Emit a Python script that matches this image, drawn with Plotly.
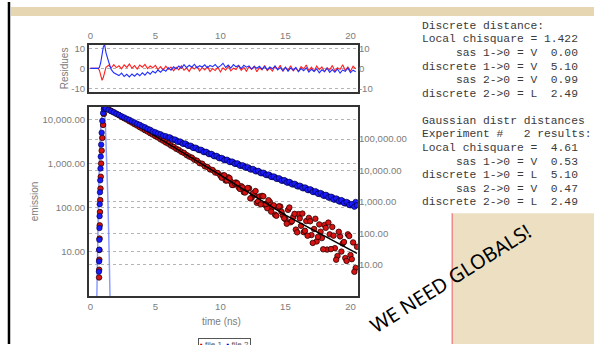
import numpy as np
import plotly.graph_objects as go

W, H = 594, 345

# ---------------- data ----------------
time_grid = np.round(np.arange(1.2, 20.41, 0.2), 1)      # 1.2 ... 20.4
time_extra = np.round(np.arange(10.1, 20.51, 0.2), 1)    # 10.1 ... 20.5
time_blue_extra = np.round(np.arange(6.1, 20.51, 0.2), 1)  # 6.1 ... 20.5

red_rise_t = [0.67, 0.68, 0.69, 0.70, 0.71, 0.72, 0.74, 0.76, 0.78, 0.80, 0.83, 0.87, 0.92, 0.98, 1.04, 1.10]
red_rise_y = [2.6, 3.9, 6.6, 11, 20, 40, 80, 150, 275, 510, 1020, 2000, 3900, 7700, 13700, 19300]
red_decay = [
    18900, 17600, 16100, 14900, 13900, 12800, 11800, 10900, 10200, 9350,
    8700, 8000, 7450, 6850, 6350, 5850, 5450, 5000, 4650, 4280,
    4000, 3620, 3380, 3080, 2880, 2610, 2440, 2210, 2080, 1880,
    1780, 1590, 1470, 1390, 1240, 1180, 1040, 1010, 880, 850,
    750, 725, 635, 620, 540,
    547, 418, 495, 396, 333, 377, 294, 311, 227, 251,
    278, 169, 196, 130, 181, 187, 118, 98, 136, 104,
    70, 103, 107, 67, 55,
    90, 47, 62, 32, 72, 39, 28, 50, 59, 24,
    33, 17.2, 42, 20.5, 40.7, 11.2, 24.9, 36.7, 12.1, 8.0,
    22.4, 15.5, 7.2, 24.9, 8.4, 16.3, 4.3,
]
red_extra = [
    485, 549, 420, 475, 331, 366, 360, 270, 292, 223,
    283, 164, 214, 241, 140, 120, 183, 122, 149, 82,
    114, 66, 108, 81, 58,
    43.5, 102, 49.6, 72.9, 27.7, 57.5, 74, 30, 23.2, 49.4,
    15.9, 56.4, 21.8, 28.6, 11.4, 35, 46.1, 11.5, 23.3, 6.6,
    28.5, 10.1, 16.7, 6.2, 22.9, 6.8, 3.5, 13,
]

blue_rise_t = [0.66, 0.67, 0.68, 0.69, 0.70, 0.71, 0.72, 0.74, 0.76, 0.78, 0.80, 0.83, 0.87, 0.92, 0.98, 1.04, 1.10]
blue_rise_y = [6, 12.7, 30, 62, 147, 352, 845, 2030, 4870, 11600, 27800, 66700, 160000, 381000, 678000, 902000, 970000]
blue_decay = [
    930000, 850000, 770000, 712000, 640000, 592000, 533000, 491000, 444000, 412000,
    369000, 341000, 307000, 284000, 255000, 237000, 212000, 198000, 176000, 165000,
    151000, 143000, 129000, 124000, 111000, 106000, 95500, 91500, 82500, 78500,
    70500, 67500, 60500, 58000, 52000, 50000, 44500, 43000, 38500, 37000,
    33000, 32000, 28500, 27300, 24500,
    23600, 21300, 20700, 18600, 18100, 16200, 15800, 14100, 13800, 12300,
    12000, 10800, 10500, 9400, 9150, 8150, 8000, 7100, 7000, 6200,
    6100, 5400, 5300, 4700, 4680,
    4100, 4060, 3580, 3560, 3100, 3120, 2700, 2720, 2360, 2380,
    2050, 2080, 1780, 1820, 1550, 1600, 1350, 1400, 1170, 1220,
    1020, 1070, 890, 940, 780, 830, 1000,
]
blue_extra = [
    114000, 96500, 97000, 82500, 84000, 71500, 72500, 61500, 62000, 52500,
    53500, 45500, 46000, 38800, 39500, 33500, 34000, 28700, 29300, 24700,
    25200, 21400, 22100, 18700, 19300, 16300, 16900, 14200, 14700, 12400,
    12800, 10800, 11200, 9450, 9750, 8250, 8550, 7200, 7450, 6250,
    6500, 5450, 5700, 4750, 4950, 4150, 4350, 3620, 3780, 3150,
    3300, 2750, 2900, 2400, 2530, 2080, 2200, 1820, 1920, 1590,
    1680, 1380, 1470, 1200, 1290, 1050, 1140, 920, 1000, 800,
    850, 700, 780,
]

red_fit_t = [1.1, 5, 10, 15, 20.5]
red_fit_y = [19600, 4300, 555, 68, 9.2]
blue_fit_t = [1.1, 5, 10, 20.5]
blue_fit_y = [973000, 164000, 24900, 693]

irf_t = [0.48, 0.52, 0.58, 0.65, 0.73, 0.82, 0.95, 1.05, 1.15, 1.25, 1.35, 1.45, 1.53]
irf_y = [0.5, 3, 30, 300, 2500, 9000, 15000, 17000, 9000, 1500, 150, 8, 0.5]

res_t_early = [0, 0.6, 0.7, 0.8, 0.9, 1.0, 1.1]
res_red = [0, 0, -1, -4, -6, -4.5, -1.5,
    0.5, 1.6, 0.2, 1.9, 0.4, 1.3, -0.2, 1.8, 0.5, 2.2, 0.1, 1.4, -0.3, 1.7, 0.6, 2.0, -0.1, 1.2, 0.3, 1.5,
    -0.6, 0.9, -0.8, 1.1, -0.4, 0.7, -1.2, 0.5, -0.7, 1.3, -0.9, 0.2, -1.5, 0.8, -0.3, 1.0, -1.3, 0.4, -0.8, 0.9, -1.6, -0.1, -1.1, 0.6, -1.8,
    0.3, -0.9, 1.2, -1.2, 0.1, -0.6, 1.4, -1.0, 0.5, -1.4, 0.8, -0.5, 1.1, -1.7, 0.4, -0.7, 1.5, -1.1, 0.2, -1.3, 1.0, -0.4, 1.6, -1.5, 0.5,
    -0.9, 1.3, -1.2, 0.1, -1.6, 0.9, -0.3, 1.7, -1.0, 0.6, -1.4, 1.2, -0.6, 0.8, -1.7, 0.3, -0.8, 1.5, -1.3, 0.4, -0.5, 1.8, -1.1, 0.7, -1.4, 1.1, -0.2,
]
res_blue = [0, 0, 0.5, 3, 7, 11, 12,
    8, 3.5, -0.5, -2.2, -3.1,
    -3.6, -2.4, -4.1, -3.0, -4.3, -2.8, -3.9, -2.6, -3.7, -2.2, -3.4, -1.8, -2.9, -1.4, -2.3,
    -0.8, -1.9, -0.5, -1.4, 0.3, -0.9, 0.8, -0.2, 1.2, 0.1, 1.9, 0.4, 1.6, 0.6, 2.1, 0.3, 1.4, 0.7, 1.8, 0.2, 1.5, 0.9, 2.0, 0.4, 1.3,
    2.6, 0.5, 1.7, 0.2, 1.9, 0.8, 1.5, -0.1, 1.6, 0.6, 1.2, -0.3, 1.0, 0.1, 1.1, -0.4, 0.9, -0.6, 0.7, -0.2, 1.3, -0.8, 0.4, -1.1, 0.6,
    -1.4, 0.2, -0.9, 0.5, -1.6, -0.1, -1.2, 0.3, -1.8, -0.4, -1.5, -0.2, -2.2, -0.7, -1.6, 0.1, -2.0, -0.6, -1.9, -0.3, -2.4, -0.8, -1.5, 0.2, -2.1, -0.9, -1.7,
]

x_ticks = [0, 5, 10, 15, 20]
left_ticks = [10, 100, 1000, 10000]
left_labels = ["10.00", "100.00", "1,000.00", "10,000.00"]
right_ticks = [10, 100, 1000, 10000, 100000]
right_labels = ["10.00", "100.00", "1,000.00", "10,000.00", "100,000.00"]
res_ticks = [-10, 0, 10]
res_labels = ["-10", "0", "10"]

info_lines = [
    "Discrete distance:",
    "Local chisquare = 1.422",
    "     sas 1->0 = V  0.00",
    "discrete 1->0 = V  5.10",
    "     sas 2->0 = V  0.99",
    "discrete 2->0 = L  2.49",
    "",
    "Gaussian distr distances",
    "Experiment #   2 results:",
    "Local chisquare =  4.61",
    "     sas 1->0 = V  0.53",
    "discrete 1->0 = L  5.10",
    "     sas 2->0 = V  0.47",
    "discrete 2->0 = L  2.49",
]

# ---------------- figure ----------------
def px(x):
    return x / W

def py(y):
    return 1 - y / H

RED = "#d81212"
BLUE = "#1a1aff"
GRAY = "#7c7c7c"

fig = go.Figure()
fig.add_trace(go.Scatter(x=irf_t, y=irf_y, mode="lines", xaxis="x", yaxis="y",
                         line=dict(color="rgba(120,140,255,0.85)", width=1.5), showlegend=False))
fig.add_trace(go.Scatter(x=red_rise_t + list(time_grid) + list(time_extra),
                         y=red_rise_y + red_decay + red_extra, mode="markers",
                         xaxis="x", yaxis="y", showlegend=False,
                         marker=dict(size=5.5, color=RED, line=dict(color="#2a0000", width=0.8))))
fig.add_trace(go.Scatter(x=red_fit_t, y=red_fit_y, mode="lines", xaxis="x", yaxis="y",
                         line=dict(color="black", width=1.5), showlegend=False))
fig.add_trace(go.Scatter(x=blue_fit_t, y=blue_fit_y, mode="lines", xaxis="x", yaxis="y2",
                         line=dict(color="black", width=3), showlegend=False))
fig.add_trace(go.Scatter(x=blue_rise_t + list(time_grid) + list(time_blue_extra),
                         y=blue_rise_y + blue_decay + blue_extra, mode="markers",
                         xaxis="x", yaxis="y2", showlegend=False,
                         marker=dict(size=5.5, color=BLUE, line=dict(color="#000030", width=0.6))))

res_t = res_t_early + list(time_grid)
fig.add_trace(go.Scatter(x=res_t, y=res_red, mode="lines", xaxis="x2", yaxis="y3",
                         line=dict(color="#ff2020", width=1.1), showlegend=False))
fig.add_trace(go.Scatter(x=res_t, y=res_blue, mode="lines", xaxis="x2", yaxis="y3",
                         line=dict(color="#2030ff", width=1.1), showlegend=False))
fig.add_trace(go.Scatter(x=res_t[:1], y=res_blue[:1], mode="markers", xaxis="x2", yaxis="y4",
                         marker=dict(opacity=0), hoverinfo="skip", showlegend=False))

tickfont = dict(family="Liberation Sans, Arial", size=9.6, color=GRAY)
frame = dict(showline=True, mirror=True, linecolor="#333333", linewidth=1.5, zeroline=False, ticks="")
xdom = [px(88), px(357.5)]
xrange = [-0.115, 20.57]

fig.update_layout(
    width=W, height=H, margin=dict(l=0, r=0, t=0, b=0),
    paper_bgcolor="white", plot_bgcolor="white",
    xaxis=dict(domain=xdom, range=xrange, anchor="y", tickvals=x_ticks, showgrid=False,
               tickfont=tickfont, **frame),
    yaxis=dict(domain=[py(297), py(106)], type="log", range=[-0.016, 4.293], anchor="x",
               tickvals=left_ticks, ticktext=left_labels, tickfont=tickfont,
               showgrid=True, griddash="dot", gridcolor="#b4b4b4", gridwidth=1, **frame),
    yaxis2=dict(type="log", range=[-0.01, 6.02], overlaying="y", side="right", anchor="x",
                tickvals=right_ticks, ticktext=right_labels, tickfont=tickfont,
                showgrid=True, griddash="dot", gridcolor="#b4b4b4", gridwidth=1,
                showline=False, zeroline=False, ticks=""),
    xaxis2=dict(domain=xdom, range=xrange, anchor="y3", side="top", tickvals=x_ticks, showgrid=False,
                tickfont=tickfont, **frame),
    yaxis3=dict(domain=[py(91), py(43)], range=[-12, 12], anchor="x2", tickvals=res_ticks,
                ticktext=res_labels, tickfont=tickfont, showgrid=True, griddash="dot",
                gridcolor="#b4b4b4", **frame),
    yaxis4=dict(range=[-12, 12], overlaying="y3", side="right", anchor="x2", tickvals=res_ticks,
                ticktext=res_labels, tickfont=tickfont, showgrid=False, showline=False,
                zeroline=False, ticks=""),
    showlegend=False,
)

shapes = [
    dict(type="rect", xref="paper", yref="paper", x0=px(10), x1=1, y0=py(14), y1=py(5),
         fillcolor="#e6d6b2", line=dict(width=0), layer="below"),
    dict(type="rect", xref="paper", yref="paper", x0=px(452), x1=1, y0=0, y1=py(213),
         fillcolor="#ede0c2", line=dict(width=0), layer="below"),
    dict(type="line", xref="paper", yref="paper", x0=px(8), x1=px(8), y0=0, y1=1,
         line=dict(color="black", width=2.5)),
    dict(type="line", xref="paper", yref="paper", x0=px(452), x1=px(452), y0=0, y1=py(213),
         line=dict(color="#f08a8a", width=1.5)),
]
fig.update_layout(shapes=shapes)

ann = []
labfont = dict(family="Liberation Sans, Arial", size=10, color=GRAY)
common = dict(xref="paper", yref="paper", showarrow=False, xanchor="center", yanchor="middle")
ann.append(dict(text="emission", x=px(33), y=py(201), textangle=-90, font=labfont, **common))
ann.append(dict(text="Residues", x=px(64), y=py(67), textangle=-90, font=labfont, **common))
ann.append(dict(text="time (ns)", x=px(221), y=py(322), font=labfont, **common))
ann.append(dict(text="<span style='color:#d00'>&#9642;</span> file 1  <span style='color:#00d'>&#9642;</span> file 2",
                x=px(223.5), y=py(339), xref="paper", yref="paper", xanchor="center", yanchor="top",
                showarrow=False, font=dict(family="Liberation Sans, Arial", size=8, color="#555"),
                bordercolor="#555", borderwidth=1, borderpad=1, bgcolor="white"))
for i, line in enumerate(info_lines):
    if not line:
        continue
    ann.append(dict(text=line.replace(" ", "\u00a0"), x=px(420), y=py(24 + i * 13.7),
                    xref="paper", yref="paper", xanchor="left", yanchor="middle", showarrow=False,
                    font=dict(family="Liberation Mono, Courier New, monospace", size=11.3, color="#3a3a3a")))
ann.append(dict(text="WE NEED GLOBALS!", x=px(450), y=py(279), textangle=-32,
                font=dict(family="Noto Sans, Open Sans", size=20, color="black"), **common))
fig.update_layout(annotations=ann)

fig.write_html("out.html", config={"displayModeBar": False},
               post_script="document.body.style.margin='0';document.body.style.padding='0';")
